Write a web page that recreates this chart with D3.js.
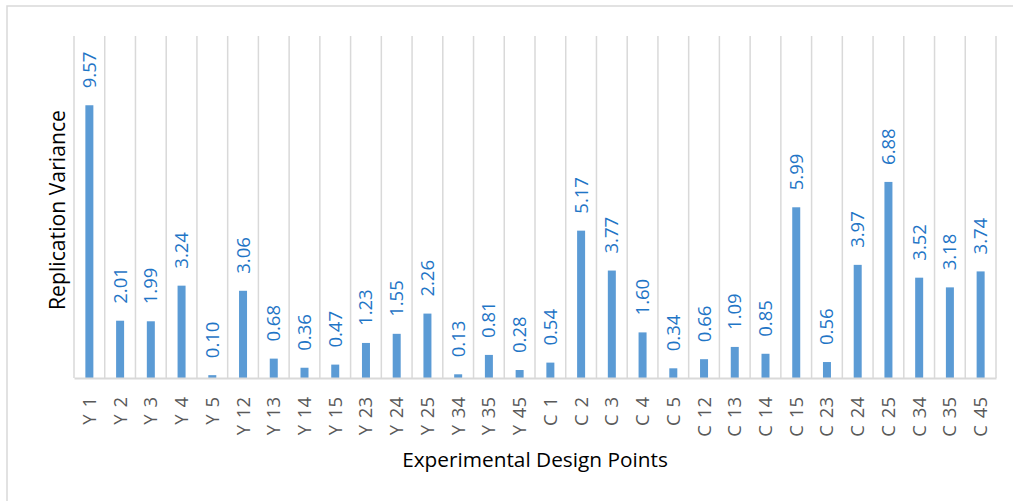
<!DOCTYPE html>
<html><head><meta charset="utf-8">
<script src="https://cdn.jsdelivr.net/npm/d3@7/dist/d3.min.js"></script>
<style>body{margin:0;background:#fff;}svg{display:block;}</style>
</head><body>
<svg id="c" width="1013" height="501"></svg>
<script>
const categories = ["Y 1","Y 2","Y 3","Y 4","Y 5","Y 12","Y 13","Y 14","Y 15","Y 23","Y 24","Y 25","Y 34","Y 35","Y 45","C 1","C 2","C 3","C 4","C 5","C 12","C 13","C 14","C 15","C 23","C 24","C 25","C 34","C 35","C 45"];
const values = [9.57,2.01,1.99,3.24,0.10,3.06,0.68,0.36,0.47,1.23,1.55,2.26,0.13,0.81,0.28,0.54,5.17,3.77,1.60,0.34,0.66,1.09,0.85,5.99,0.56,3.97,6.88,3.52,3.18,3.74];
const yDomain = [0, 12];
const xTitle = "Experimental Design Points";
const yTitle = "Replication Variance";

(function(){
const svg = d3.select("#c");
const font = "'Open Sans', sans-serif";
svg.append("rect").attr("x",7).attr("y",6).attr("width",1012).attr("height",510)
  .attr("fill","none").attr("stroke","#d9d9d9").attr("stroke-width",1.5);

const pL = 74, pR = 996, pT = 36, pB = 378;
const x = d3.scaleBand().domain(categories).range([pL, pR]).paddingInner(0).paddingOuter(0);
const y = d3.scaleLinear().domain(yDomain).range([pB, pT]);

const bounds = categories.map(c => x(c)).concat([pR]);
svg.append("g").selectAll("line").data(bounds).join("line")
  .attr("x1", d => d).attr("x2", d => d).attr("y1", pT).attr("y2", pB)
  .attr("stroke","#d9d9d9").attr("stroke-width",1.5);

const bw = 8;
svg.append("g").selectAll("rect").data(values).join("rect")
  .attr("x", (d,i) => x(categories[i]) + x.bandwidth()/2 - bw/2)
  .attr("width", bw)
  .attr("y", d => y(d))
  .attr("height", d => pB - y(d))
  .attr("fill","#5b9bd5");

const xAxis = d3.axisBottom(x).tickSize(0).tickPadding(0);
const gx = svg.append("g").attr("transform",`translate(0,${pB})`).call(xAxis);
gx.select(".domain").attr("stroke","#d9d9d9").attr("stroke-width",2);
gx.selectAll(".tick text")
  .attr("transform","rotate(-90)")
  .attr("x", -19).attr("y", 0).attr("dy","0.35em")
  .attr("text-anchor","end")
  .attr("fill","#595959")
  .style("word-spacing","2px")
  .style("font-family", font).style("font-size","18.5px");

svg.append("g").selectAll("text").data(values).join("text")
  .attr("transform",(d,i)=>`translate(${x(categories[i]) + x.bandwidth()/2},${y(d) - 17}) rotate(-90)`)
  .attr("dy","0.35em")
  .attr("text-anchor","start")
  .attr("fill","#1f75c6")
  .style("font-family", font).style("font-size","18.5px")
  .text(d => d3.format(".2f")(d));

svg.append("text").attr("x", 535).attr("y", 467)
  .attr("text-anchor","middle").attr("fill","#000")
  .style("font-family", font).style("font-size","20.8px").text(xTitle);
svg.append("text").attr("transform","translate(65,210) rotate(-90)")
  .attr("text-anchor","middle").attr("fill","#000")
  .style("font-family", font).style("font-size","21.2px").text(yTitle);
})();
</script>
</body></html>
